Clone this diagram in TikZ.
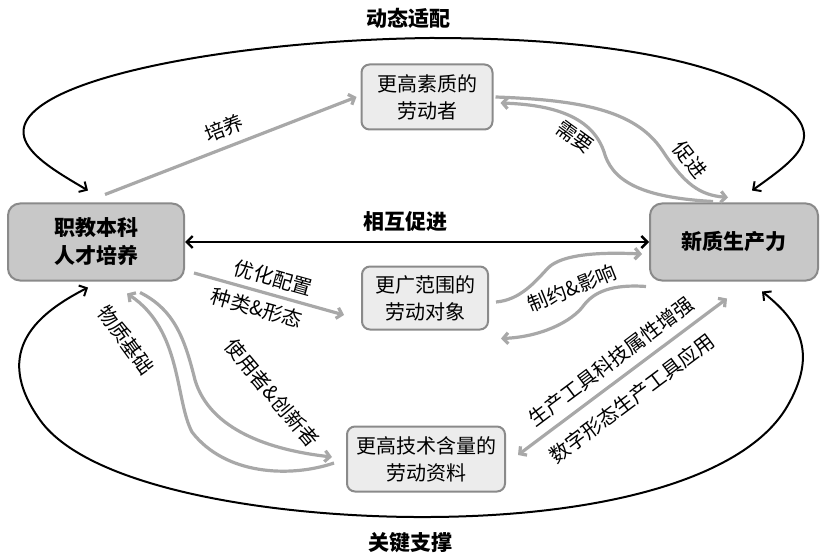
\documentclass[tikz,border=0pt]{standalone}
\usepackage{fontspec}
\setmainfont{Noto Sans CJK SC}
\usetikzlibrary{arrows.meta,calc}
\definecolor{boxdark}{HTML}{C8C8C8}
\definecolor{boxlight}{HTML}{ECECEC}
\definecolor{boxedge}{HTML}{8A8A8A}
\definecolor{flowgray}{HTML}{A8A8A8}
\tikzset{
  bx/.style={rounded corners=4pt, align=center, draw=boxedge, line width=1pt, font=\fontsize{10}{13.5}\selectfont, inner sep=2pt},
  core/.style={bx, fill=boxdark, rounded corners=6pt, font=\fontsize{10.5}{14}\selectfont\bfseries},
  elem/.style={bx, fill=boxlight},
  ring/.style={{Straight Barb[length=3pt,width=6pt]}-{Straight Barb[length=3pt,width=6pt]}, line width=1pt, black},
  link/.style={{Straight Barb[length=3pt,width=6pt]}-{Straight Barb[length=3pt,width=6pt]}, line width=1.2pt, black},
  flow/.style={-{Straight Barb[length=2.5pt,width=5.5pt]}, line width=1.6pt, flowgray},
  flowb/.style={{Straight Barb[length=2.5pt,width=5.5pt]}-{Straight Barb[length=2.5pt,width=5.5pt]}, line width=1.6pt, flowgray},
  lbl/.style={font=\fontsize{10}{12}\selectfont, inner sep=1pt, text=black},
  ttl/.style={font=\fontsize{10.5}{12}\selectfont\bfseries},
}
\begin{document}
\begin{tikzpicture}[x=0.5pt, y=-0.5pt]
  \useasboundingbox (0,0) rectangle (822,555);
  % boxes
  \node[core, minimum width=88pt, minimum height=38.5pt] (zj) at (96,242) {职教本科\\人才培养};
  \node[core, minimum width=84pt, minimum height=38.5pt] (xz) at (734,242) {新质生产力};
  \node[elem, minimum width=65.5pt, minimum height=32.5pt] (ldz) at (427,97) {更高素质的\\劳动者};
  \node[elem, minimum width=63pt, minimum height=31.5pt] (ldx) at (425,298) {更广范围的\\劳动对象};
  \node[elem, minimum width=79pt, minimum height=32.5pt] (ldzl) at (426,459) {更高技术含量的\\劳动资料};

  % outer loops
  \node[ttl] (dtsp) at (408,18) {动态适配};
  \node[ttl] (gjzc) at (410,543) {关键支撑};
  \draw[ring] ($(zj.north)+(-8,-12)$) .. controls (45,165) and (-10,135) .. (50,100)
    .. controls (110,65) and (270,40) .. (430,38)
    .. controls (600,38) and (730,60) .. (790,110)
    .. controls (822,140) and (795,160) .. ($(xz.north)+(18,-12)$);
  \draw[ring] ($(zj.south)+(-8,6)$) .. controls (40,312) and (-10,350) .. (40,420)
    .. controls (90,490) and (280,518) .. (430,517)
    .. controls (600,516) and (740,480) .. (785,410)
    .. controls (822,350) and (795,318) .. ($(xz.south)+(28,10)$);

  % middle link
  \draw[link] (zj.east) -- (xz.west);
  \node[ttl] (hxcj) at (405,222) {相互促进};

  % labour force
  \draw[flow] ($(zj.north east)+(-80,-8)$) -- ($(ldz.west)+(-4,0)$)
    node[lbl, midway, sloped, above=3pt] (py) {培养};
  \draw[flow] ($(ldz.east)+(2,0)$) .. controls (580,100) and (635,110) .. (662,150)
    .. controls (685,185) and (700,195) .. ($(xz.north)+(-6,-5)$);
  \draw[flow] ($(xz.north)+(-21,-1)$) .. controls (650,198) and (615,185) .. (605,155)
    .. controls (595,120) and (560,105) .. ($(ldz.east)+(7,6)$);
  \node[lbl, rotate=-36] (xy) at (575,137) {需要};
  \node[lbl, rotate=-52] (cj) at (690,160) {促进};

  % labour object
  \draw[flow] ($(zj.east)+(9,31)$) -- ($(ldx.west)+(-17,17)$)
    node[lbl, pos=.5, sloped, above=2pt] (yh) {优化配置}
    node[lbl, pos=.45, sloped, below=2pt] (zl) {种类\&形态};
  \draw[flow] ($(ldx.east)+(7,4)$) .. controls (520,300) and (535,282) .. (548,268)
    .. controls (562,254) and (600,252) .. ($(xz.west)+(-7,12)$);
  \draw[flow] ($(xz.south west)+(-3,5)$) .. controls (612,284) and (594,292) .. (584,305)
    .. controls (572,322) and (540,337) .. ($(ldx.south east)+(12,8)$);
  \node[lbl, rotate=22] (zy) at (572,288) {制约\&影响};

  % labour means
  \draw[flowb] ($(xz.south)+(-7,17)$) -- ($(ldzl.east)+(12,-4)$)
    node[lbl, pos=.5, sloped, above=3pt] (kj) {生产工具科技属性增强}
    node[lbl, pos=.52, sloped, below=5pt] (sz) {数字形态生产工具应用};
  \draw[flow] ($(zj.south)+(44,11)$) .. controls (175,310) and (185,340) .. (195,380)
    .. controls (210,430) and (270,450) .. ($(ldzl.west)+(-14,-2)$);
  \draw[flow] ($(ldzl.west)+(-12,4)$) .. controls (290,478) and (225,475) .. (192,432)
    .. controls (175,400) and (182,330) .. ($(zj.south)+(31,12)$);
  \node[lbl, rotate=-54] (wz) at (126,340) {物质基础};
  \node[lbl, rotate=-50] (sy) at (272,393) {使用者\&创新者};
\end{tikzpicture}
\end{document}
